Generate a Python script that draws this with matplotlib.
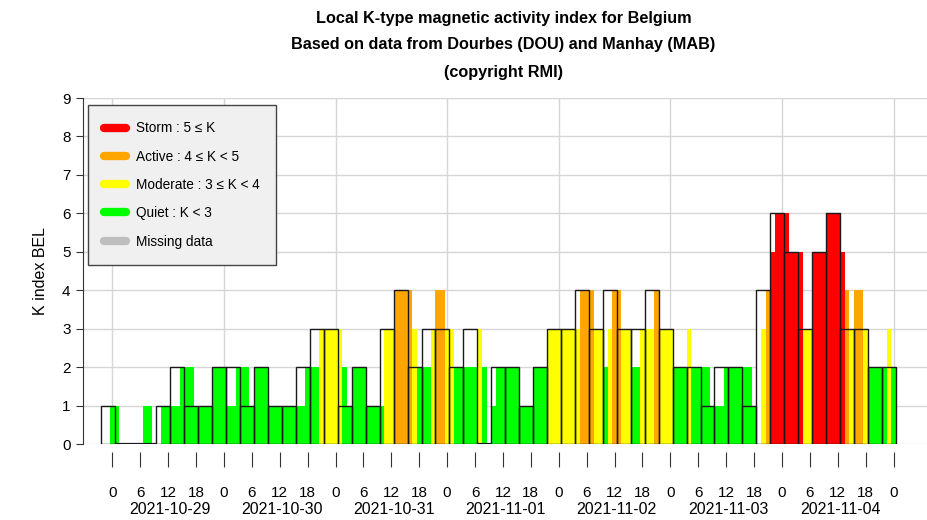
import numpy as np
import matplotlib
matplotlib.use("Agg")
import matplotlib.pyplot as plt
from matplotlib.lines import Line2D
from matplotlib import font_manager

# ---------------- data ----------------
# hours since 2021-10-29 00:00 UT
hourly_start = -2
hourly_k = [0, 0,
            1, 1, 0, 0, 0, 0, 0, 1, 1, 0, 0, 1, 1, 1, 1, 2, 2, 2, 1, 1, 1, 1, 2, 2,
            2, 1, 1, 2, 2, 2, 1, 2, 2, 2, 1, 1, 1, 1, 1, 1, 1, 1, 2, 2, 2, 3, 3, 3,
            3, 3, 2, 1, 2, 2, 2, 1, 1, 1, 1, 3, 3, 4, 4, 4, 4, 3, 2, 2, 2, 3, 4, 4,
            3, 3, 2, 2, 2, 2, 2, 3, 2, 0, 1, 2, 2, 2, 2, 2, 1, 1, 1, 2, 2, 2, 3, 3,
            3, 3, 3, 3, 3, 4, 4, 4, 3, 3, 2, 3, 4, 4, 3, 3, 2, 2, 3, 3, 3, 4, 3, 3,
            3, 2, 2, 2, 3, 2, 2, 2, 2, 1, 1, 1, 2, 2, 2, 2, 2, 2, 1, 0, 3, 4, 5, 6,
            6, 6, 5, 5, 5, 3, 3, 5, 5, 5, 6, 6, 6, 5, 4, 3, 4, 4, 3, 2, 2, 2, 2, 3,
            2]
# 3-hour K values, first interval centred at -1 h
k3_start = -1
k3_values = [1, 0, 0, 0, 1, 2, 1, 1, 2,
             2, 1, 2, 1, 1, 2, 3, 3,
             1, 2, 1, 3, 4, 2, 3, 3,
             2, 3, 0, 2, 2, 1, 2, 3,
             3, 4, 3, 4, 3, 3, 4, 3,
             2, 2, 1, 2, 2, 1, 4, 6,
             5, 3, 5, 6, 3, 3, 2, 2]
day_labels = ["2021-10-29", "2021-10-30", "2021-10-31", "2021-11-01",
              "2021-11-02", "2021-11-03", "2021-11-04"]
hour_labels = ["0", "6", "12", "18"]
legend_labels = ["Storm : 5 \u2264 K", "Active : 4 \u2264 K < 5",
                 "Moderate : 3 \u2264 K < 4", "Quiet : K < 3", "Missing data"]
legend_colors = ["#ff0000", "#ffa500", "#ffff00", "#00ff00", "#bebebe"]

# ---------------- style ----------------
avail = {f.name for f in font_manager.fontManager.ttflist}
fam = [f for f in ["Liberation Sans Narrow", "Liberation Sans", "DejaVu Sans"] if f in avail]
plt.rcParams['font.family'] = fam


def kcolor(k):
    if k >= 5:
        return "#ff0000"
    if k >= 4:
        return "#ffa500"
    if k >= 3:
        return "#ffff00"
    return "#00ff00"


W, H = 927, 520
fig = plt.figure(figsize=(W / 100, H / 100), dpi=100)
ax = fig.add_axes([83 / W, 1 - 444 / H, (W - 83) / W, (444 - 98) / H])

hours = np.arange(hourly_start, hourly_start + len(hourly_k))
centers3 = k3_start + 3 * np.arange(len(k3_values))
k3_arr = np.array(k3_values)

# white filled 3h boxes
ax.bar(centers3, k3_values, width=3, color="white", edgecolor="none", zorder=2)
# hourly coloured bars
ax.bar(hours, hourly_k, width=1, color=[kcolor(k) for k in hourly_k],
       edgecolor="none", zorder=3)
# 3h outlines on top
ax.bar(centers3, k3_values, width=3, fill=False, edgecolor="#1a1a1a",
       linewidth=1.0, zorder=4)
# zero-valued 3h intervals appear as a line on the base
zc = centers3[k3_arr == 0]
ax.hlines(np.zeros(len(zc)), zc - 1.5, zc + 1.5, color="#1a1a1a", lw=1.6, zorder=5)

ax.set_xlim(-6.3, 175.2)
ax.set_ylim(0, 9)

# grid
for y in range(0, 10):
    ax.axhline(y, color="#d6d6d6", lw=1.0, zorder=0)
for d in range(0, 8):
    ax.axvline(24 * d, color="#d6d6d6", lw=1.0, zorder=0)

# spines
for s in ["top", "right"]:
    ax.spines[s].set_visible(False)
ax.spines["bottom"].set_position(("outward", 6))
ax.spines["bottom"].set_color("none")
ax.spines["left"].set_color("#333333")
ax.spines["left"].set_bounds(0, 9)

ax.set_yticks(range(0, 10))
ax.tick_params(axis="y", length=5, pad=4, labelsize=11, color="#333333")

xt = np.arange(0, 169, 6)
ax.set_xticks(xt)
ax.set_xticklabels([hour_labels[(int(h) % 24) // 6] for h in xt])
ax.tick_params(axis="x", length=11, pad=13, labelsize=11, color="#333333")

for i, lab in enumerate(day_labels):
    ax.text(24 * i + 12.5, -(509 - 444) / (444 - 98), lab,
            transform=ax.get_xaxis_transform(),
            ha="center", va="center", fontsize=11.5)

ax.set_ylabel("K index BEL", fontsize=11.5, labelpad=10)

for yy, txt in [(18, "Local K-type magnetic activity index for Belgium"),
                (45, "Based on data from Dourbes (DOU) and Manhay (MAB)"),
                (72, "(copyright RMI)")]:
    fig.text(0.543, 1 - yy / H, txt, ha="center", va="center",
             fontsize=11.7, fontweight="bold")

handles = [Line2D([0], [0], color=c, lw=6, solid_capstyle="round") for c in legend_colors]
leg = ax.legend(handles, legend_labels, loc="upper left",
                bbox_to_anchor=((88 - 83) / (W - 83), 1 - (105 - 98) / (444 - 98)),
                frameon=True, fancybox=False, fontsize=9.8, handlelength=1.6,
                labelspacing=1.05, borderpad=1.2, handletextpad=0.7,
                borderaxespad=0)
leg.get_frame().set_facecolor("#f0f0f0")
leg.get_frame().set_edgecolor("#444444")
leg.get_frame().set_alpha(1)
leg.set_zorder(10)

fig.savefig("out.png", dpi=100)
